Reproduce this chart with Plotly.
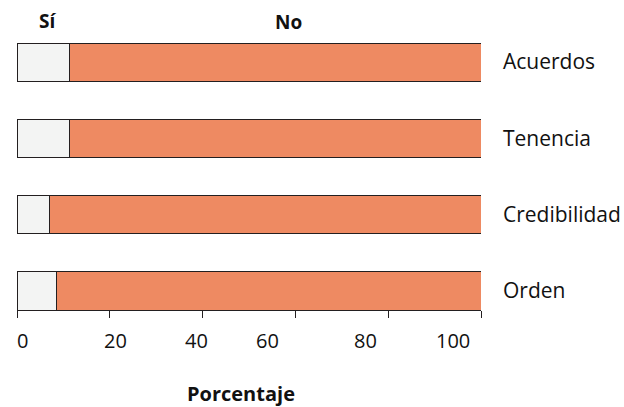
import plotly.graph_objects as go

categories = ["Acuerdos", "Tenencia", "Credibilidad", "Orden"]
si_vals = [11.4, 11.4, 7.1, 8.6]
no_vals = [88.6, 88.6, 92.9, 91.4]
tick_vals = [0, 20, 40, 60, 80, 100]
tick_labels = ["0", "20", "40", "60", "80", "100"]
tick_label_pos = [-0.4, 18.3, 38.75, 54.0, 78.1, 98.0]

FONT = "Open Sans"
TXT = "#111111"
line = dict(color="#231f20", width=1)

W, H = 624, 407
L, T, R, B = 17, 24, 143, 97
PW, PH = W - L - R, H - T - B

fig = go.Figure()
fig.add_trace(go.Bar(y=categories, x=si_vals, orientation="h", name="Sí",
                     marker=dict(color="#f3f4f3", line=line), width=0.5))
fig.add_trace(go.Bar(y=categories, x=no_vals, orientation="h", name="No",
                     marker=dict(color="#ee8a62", line=line), width=0.5))

annotations = []
for pos, lab in zip(tick_label_pos, tick_labels):
    annotations.append(dict(x=pos / 100, xref="paper", y=0, yref="paper",
                            yanchor="top", yshift=-15, text=lab, showarrow=False,
                            font=dict(family=FONT, size=20, color=TXT)))
annotations.append(dict(x=(241 - L) / PW, xref="paper", y=0, yref="paper",
                        yanchor="middle", yshift=-83, text="<b>Porcentaje</b>",
                        showarrow=False, borderpad=0,
                        font=dict(family=FONT, size=20, color=TXT)))
annotations.append(dict(x=(36.5 - L) / PW, xref="paper", y=1, yref="paper",
                        yanchor="middle", yshift=3, text="<b>Sí</b>",
                        showarrow=False, font=dict(family=FONT, size=19, color=TXT)))
annotations.append(dict(x=(288.5 - L) / PW, xref="paper", y=1, yref="paper",
                        yanchor="middle", yshift=2, text="<b>No</b>",
                        showarrow=False, font=dict(family=FONT, size=19, color=TXT)))

fig.update_layout(
    width=W, height=H,
    margin=dict(l=L, r=R, t=T, b=B, autoexpand=False),
    barmode="stack", showlegend=False,
    plot_bgcolor="white", paper_bgcolor="white",
    font=dict(family=FONT, size=20, color=TXT),
    annotations=annotations,
    xaxis=dict(range=[0, 100], showgrid=False, zeroline=False, automargin=False,
               showline=True, linecolor="#231f20", linewidth=1,
               ticks="outside", ticklen=7, tickcolor="#231f20",
               tickvals=tick_vals, showticklabels=False),
    yaxis=dict(range=[3.25, -0.5], side="right", showgrid=False,
               zeroline=False, showline=False, ticks="", automargin=False,
               ticklabelstandoff=21,
               tickfont=dict(family=FONT, size=21, color=TXT)),
)

fig.write_html("out.html",
               config={"displayModeBar": False},
               post_script="document.body.style.margin='0px';"
                           "document.body.style.overflow='hidden';")
